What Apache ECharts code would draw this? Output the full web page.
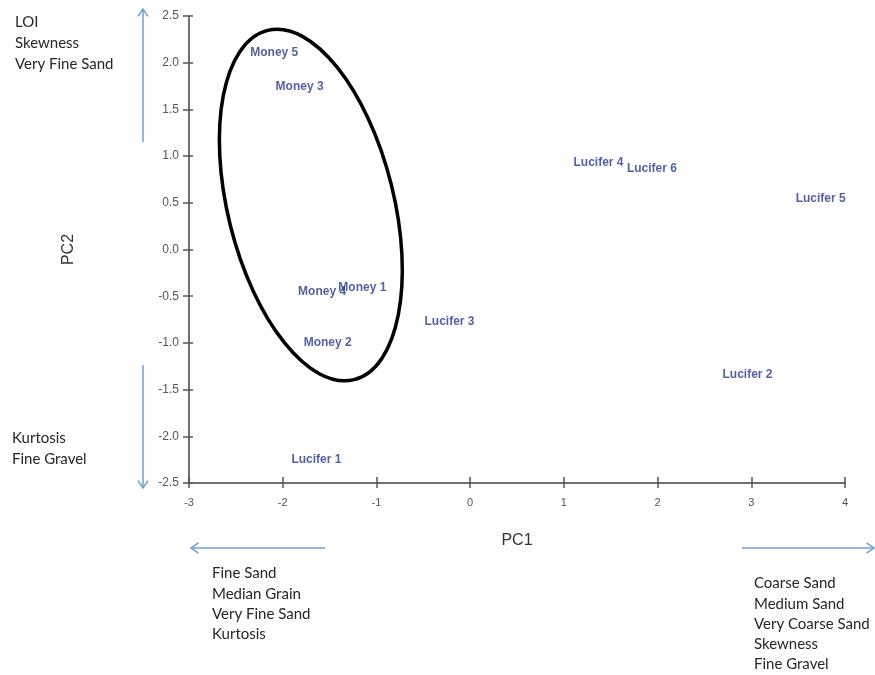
<!DOCTYPE html>
<html>
<head>
<meta charset="utf-8">
<script src="https://cdn.jsdelivr.net/npm/echarts@6/dist/echarts.min.js"></script>
<style>html,body{margin:0;padding:0;background:#fff}#c{width:875px;height:675px}</style>
</head>
<body>
<div id="c"></div>
<script>
// ---- data ----
const sampleNames = ['Money 5','Money 3','Money 4','Money 1','Money 2','Lucifer 1','Lucifer 3','Lucifer 4','Lucifer 6','Lucifer 5','Lucifer 2'];
const pc1Values   = [-2.09, -1.82, -1.58, -1.15, -1.52, -1.64, -0.22, 1.37, 1.94, 3.74, 2.96];
const pc2Values   = [ 2.11,  1.74, -0.45, -0.41, -1.00, -2.25, -0.77, 0.93, 0.87, 0.54, -1.34];
const xTickValues = [-3, -2, -1, 0, 1, 2, 3, 4];
const yTickValues = [-2.5, -2.0, -1.5, -1.0, -0.5, 0.0, 0.5, 1.0, 1.5, 2.0, 2.5];
// ellipse annotation around the Money group: [centre PC1, centre PC2, half-width, half-height, tilt deg]
const groupEllipse = [-1.70, 0.476, 0.886, 1.926, 13.9];

const upLabels    = ['LOI', 'Skewness', 'Very Fine Sand'];
const downLabels  = ['Kurtosis', 'Fine Gravel'];
const leftLabels  = ['Fine Sand', 'Median Grain', 'Very Fine Sand', 'Kurtosis'];
const rightLabels = ['Coarse Sand', 'Medium Sand', 'Very Coarse Sand', 'Skewness', 'Fine Gravel'];

const points = sampleNames.map((n, i) => ({ name: n, value: [pc1Values[i], pc2Values[i]] }));

const chart = echarts.init(document.getElementById('c'), null, { renderer: 'canvas' });
const axisCol = '#707070';
const arrowCol = '#6f9fd3';
const sideFont = 'Lato, "Open Sans", sans-serif';

function textBlock(lines, x, y, lh) {
  return lines.map((t, i) => ({
    type: 'text', left: x, top: y + i * lh,
    style: { text: t, font: '15px ' + sideFont, fill: '#262626' }
  }));
}
function arrow(x1, y1, x2, y2) {
  const ang = Math.atan2(y2 - y1, x2 - x1);
  const hl = 9, ha = 0.6;
  const p1 = [x2 - hl * Math.cos(ang - ha), y2 - hl * Math.sin(ang - ha)];
  const p2 = [x2 - hl * Math.cos(ang + ha), y2 - hl * Math.sin(ang + ha)];
  return [
    { type: 'line', shape: { x1, y1, x2, y2 }, style: { stroke: arrowCol, lineWidth: 1.5 } },
    { type: 'polyline', shape: { points: [p1, [x2, y2], p2] }, style: { stroke: arrowCol, lineWidth: 1.5, fill: null } }
  ];
}

const graphics = [].concat(
  arrow(143, 142, 143, 9),
  arrow(143, 365, 143, 488),
  arrow(325, 548, 191, 548),
  arrow(742, 548, 874, 548),
  textBlock(upLabels, 15, 15, 21),
  textBlock(downLabels, 12, 431, 20.5),
  textBlock(leftLabels, 212, 566, 20.2),
  textBlock(rightLabels, 754, 576, 20.2)
);

const option = {
  animation: false,
  backgroundColor: '#fff',
  grid: { left: 189, right: 30, top: 16, bottom: 192, containLabel: false },
  xAxis: [{
    type: 'value', min: -3, max: 4, interval: 1,
    name: 'PC1', nameLocation: 'middle', nameGap: 50,
    nameTextStyle: { fontFamily: 'Liberation Sans, Arial', fontSize: 16, color: '#333' },
    axisLine: { show: true, onZero: false, lineStyle: { color: axisCol, width: 2 } },
    axisTick: { show: true, length: 5, lineStyle: { color: '#555', width: 1.5 } },
    axisLabel: { fontFamily: 'Liberation Sans, Arial', fontSize: 11, color: '#555', margin: 14,
      formatter: v => xTickValues.includes(v) ? String(v) : '' },
    splitLine: { show: false }
  }, {
    type: 'value', min: -3, max: 4, interval: 1, position: 'bottom',
    axisLine: { show: false, onZero: false },
    axisTick: { show: true, inside: true, length: 6, lineStyle: { color: '#555', width: 1.5 } },
    axisLabel: { show: false }, splitLine: { show: false }
  }],
  yAxis: [{
    type: 'value', min: -2.5, max: 2.5, interval: 0.5,
    name: 'PC2', nameLocation: 'middle', nameGap: 112, nameRotate: 90,
    nameTextStyle: { fontFamily: 'Liberation Sans, Arial', fontSize: 16, color: '#333' },
    axisLine: { show: true, onZero: false, lineStyle: { color: axisCol, width: 2 } },
    axisTick: { show: true, length: 6, lineStyle: { color: '#555', width: 1.5 } },
    axisLabel: { fontFamily: 'Liberation Sans, Arial', fontSize: 12, color: '#555', margin: 10,
      formatter: v => yTickValues.some(t => Math.abs(t - v) < 1e-9) ? v.toFixed(1) : '' },
    splitLine: { show: false }
  }, {
    type: 'value', min: -2.5, max: 2.5, interval: 0.5, position: 'left',
    axisLine: { show: false, onZero: false },
    axisTick: { show: true, inside: true, length: 4, lineStyle: { color: '#555', width: 1.5 } },
    axisLabel: { show: false }, splitLine: { show: false }
  }],
  series: [{
    type: 'scatter',
    data: points,
    symbolSize: 0,
    label: {
      show: true, position: 'inside', formatter: p => p.name,
      fontFamily: 'Liberation Sans, Arial', fontSize: 12, fontWeight: 'bold', color: '#2a3888'
    },
    silent: true, z: 3
  }, {
    type: 'custom',
    data: [groupEllipse],
    encode: { x: 0, y: 1 },
    silent: true, z: 4, clip: false,
    renderItem: function (params, api) {
      const c = api.coord([api.value(0), api.value(1)]);
      const s = api.size([api.value(2), api.value(3)]);
      return {
        type: 'ellipse',
        x: c[0], y: c[1],
        rotation: api.value(4) * Math.PI / 180,
        shape: { cx: 0, cy: 0, rx: s[0], ry: s[1] },
        style: { fill: 'none', stroke: '#000', lineWidth: 3.5 }
      };
    }
  }],
  graphic: graphics
};
chart.setOption(option);
</script>
</body>
</html>
